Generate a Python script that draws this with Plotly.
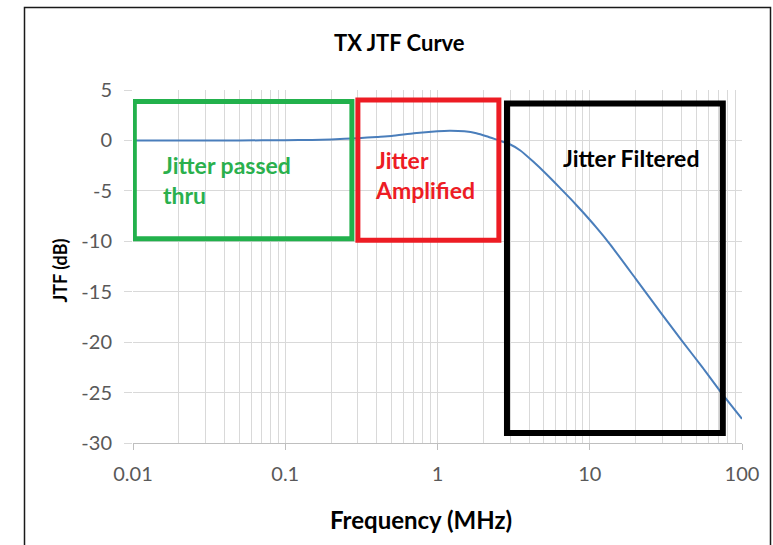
import plotly.graph_objects as go

freq_mhz = [0.01, 0.02, 0.05, 0.1, 0.15, 0.2, 0.3, 0.4, 0.5, 0.7, 1.0, 1.2, 1.5, 1.8,
            2.1, 2.53, 2.94, 3.5, 4.25, 5.2, 6.37, 7.6, 9.06, 11, 13.6, 20, 30, 40, 55, 73, 100]
jtf_db = [0.0, 0.0, 0.0, 0.02, 0.05, 0.1, 0.22, 0.35, 0.45, 0.7, 0.9, 0.95, 0.9, 0.72,
          0.42, 0.0, -0.33, -1.0, -2.1, -3.35, -4.7, -5.9, -7.15, -8.6, -10.3, -13.7,
          -17.3, -19.8, -22.5, -25.0, -27.6]

y_ticks = [5, 0, -5, -10, -15, -20, -25, -30]
y_tick_labels = ["5", "0", "-5", "-10", "-15", "-20", "-25", "-30"]
x_ticks = [0.01, 0.1, 1, 10, 100]
x_tick_labels = ["0.01", "0.1", "1", "10", "100"]

# region boxes: (x0, x1, y0, y1, colour, line width)
regions = [
    (0.0102, 0.274, -9.75, 3.85, "#22b14c", 5),
    (0.300, 2.53, -9.9, 4.0, "#ed1c24", 5),
    (2.86, 74.8, -29.0, 3.65, "#000000", 6),
]

FONT = "Lato"
grid_c = "#d9d9d9"

# plot area in screen pixels
PX0, PX1, PY0, PY1 = 133, 742, 90, 443
FIG_W, FIG_H = 773, 545
W_PLOT, H_PLOT = PX1 - PX0, PY1 - PY0


def px(x):
    return (x - PX0) / W_PLOT


def py(y):
    return (PY1 - y) / H_PLOT


fig = go.Figure()
fig.add_trace(go.Scatter(x=freq_mhz, y=jtf_db, mode="lines",
                         line=dict(color="#4a7ebb", width=2, shape="spline", smoothing=0.5),
                         hoverinfo="skip", showlegend=False))

shapes = []
for x0, x1, y0, y1, c, w in regions:
    shapes.append(dict(type="rect", xref="x", yref="y", x0=x0, x1=x1, y0=y0, y1=y1,
                       line=dict(color=c, width=w), fillcolor="rgba(0,0,0,0)", layer="above"))
# outer chart border
shapes.append(dict(type="rect", xref="paper", yref="paper",
                   x0=px(24.5), x1=px(770.5), y0=py(560), y1=py(7.5),
                   line=dict(color="#1a1a1a", width=1.5), layer="below"))

annotations = [
    dict(text="<b>TX JTF Curve</b>", xref="paper", yref="paper",
         x=px(399), y=py(43), showarrow=False,
         font=dict(family=FONT, size=22, color="#000000"), xanchor="center", yanchor="middle"),
    dict(text="<b>Frequency (MHz)</b>", xref="paper", yref="paper",
         x=px(421), y=py(519), showarrow=False,
         font=dict(family=FONT, size=24, color="#000000"), xanchor="center", yanchor="middle"),
    dict(text="<b>JTF (dB)</b>", xref="paper", yref="paper", textangle=-90,
         x=px(59.5), y=py(271), showarrow=False,
         font=dict(family=FONT, size=18, color="#000000"), xanchor="center", yanchor="middle"),
    dict(text="<b>Jitter passed<br>thru</b>", xref="paper", yref="paper",
         x=px(161), y=py(180), showarrow=False, align="left",
         font=dict(family=FONT, size=23, color="#2ab04d"), xanchor="left", yanchor="middle"),
    dict(text="<b>Jitter<br>Amplified</b>", xref="paper", yref="paper",
         x=px(373), y=py(175), showarrow=False, align="left",
         font=dict(family=FONT, size=23, color="#ed1c24"), xanchor="left", yanchor="middle"),
    dict(text="<b>Jitter Filtered</b>", xref="paper", yref="paper",
         x=px(561), y=py(158), showarrow=False, align="left",
         font=dict(family=FONT, size=23, color="#000000"), xanchor="left", yanchor="middle"),
]

fig.update_layout(
    width=FIG_W, height=FIG_H,
    margin=dict(l=PX0, r=FIG_W - PX1, t=PY0, b=FIG_H - PY1, pad=0),
    paper_bgcolor="white", plot_bgcolor="white",
    shapes=shapes, annotations=annotations, showlegend=False,
    xaxis=dict(type="log", range=[-2, 2], tickvals=x_ticks, ticktext=x_tick_labels,
               showgrid=True, gridcolor=grid_c, gridwidth=1,
               minor=dict(showgrid=True, gridcolor=grid_c, gridwidth=1, dtick="D1",
                          ticks=""),
               ticks="outside", ticklen=6, tickcolor="#bfbfbf", ticklabelstandoff=7,
               showline=True, linecolor="#bfbfbf", linewidth=1, zeroline=False,
               tickfont=dict(family=FONT, size=20, color="#595959")),
    yaxis=dict(range=[-30, 5], tickvals=y_ticks, ticktext=y_tick_labels, showgrid=True,
               gridcolor=grid_c, gridwidth=1, zeroline=False, showline=False,
               ticks="outside", ticklen=8, tickcolor=grid_c, ticklabelstandoff=8,
               tickfont=dict(family=FONT, size=20, color="#595959")),
)

fig.write_html("out.html",
               config={"displayModeBar": False},
               post_script="document.body.style.margin='0';"
                           "document.body.style.overflow='hidden';")
